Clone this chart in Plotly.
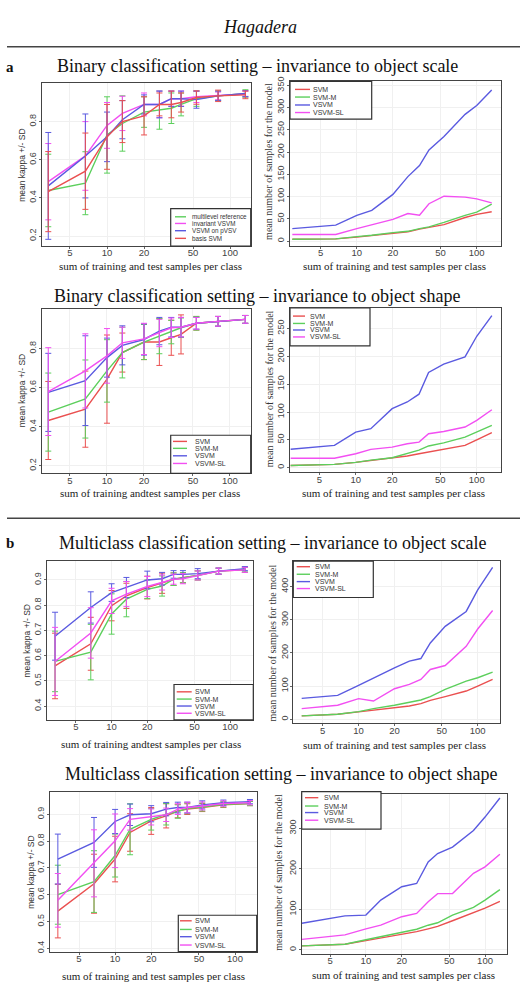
import plotly.graph_objects as go

W, H = 520, 993

# ---------------- data ----------------
x_left = [3.33, 6.67, 10, 13.33, 20, 26.67, 33.33, 40, 53.33, 80, 133.33]
x_right_edge = [2.9, 6.67, 10, 13.33, 20, 26.67, 33.33, 40, 53.33, 80, 100, 133.33]
x_right = [3.33, 6.67, 10, 13.33, 20, 26.67, 33.33, 40, 53.33, 80, 100, 133.33]
x_ticks = [5, 10, 20, 50, 100]

# a - binary, scale (kappa)
a1_green = [0.439, 0.477, 0.73, 0.79, 0.85, 0.86, 0.87, 0.89, 0.92, 0.935, 0.947]
a1_magenta = [0.485, 0.62, 0.78, 0.843, 0.89, 0.89, 0.92, 0.92, 0.93, 0.935, 0.945]
a1_blue = [0.463, 0.62, 0.72, 0.81, 0.89, 0.89, 0.92, 0.92, 0.915, 0.935, 0.947]
a1_red = [0.433, 0.54, 0.72, 0.80, 0.83, 0.89, 0.89, 0.90, 0.926, 0.935, 0.94]
a1_green_sd = [0.19, 0.165, 0.2, 0.145, 0.08, 0.1, 0.08, 0.06, 0.04, 0.025, 0.02]
a1_magenta_sd = [0.2, 0.18, 0.12, 0.09, 0.06, 0.07, 0.04, 0.04, 0.03, 0.02, 0.015]
a1_blue_sd = [0.28, 0.22, 0.13, 0.1, 0.05, 0.07, 0.04, 0.04, 0.045, 0.025, 0.015]
a1_red_sd = [0.21, 0.2, 0.17, 0.11, 0.1, 0.06, 0.07, 0.05, 0.035, 0.03, 0.02]

# a - binary, scale (samples)
a1r_vsvm = [28, 36, 58, 69, 105, 145, 170, 205, 235, 285, 305, 340]
a1r_vsvmsl = [15, 15, 28, 37, 49, 62, 58, 84, 101, 99, 95, 86]
a1r_svmm = [4, 5, 10, 13, 19, 22, 28, 32, 42, 58, 65, 83]
a1r_svm = [4, 5, 9, 13, 17, 21, 27, 31, 37, 53, 60, 66]

# a - binary, shape (kappa)
a2_red = [0.432, 0.49, 0.644, 0.78, 0.834, 0.834, 0.856, 0.873, 0.93, 0.94, 0.95]
a2_green = [0.475, 0.542, 0.686, 0.78, 0.834, 0.864, 0.885, 0.907, 0.93, 0.94, 0.95]
a2_blue = [0.576, 0.636, 0.754, 0.817, 0.847, 0.89, 0.91, 0.91, 0.93, 0.94, 0.95]
a2_magenta = [0.58, 0.686, 0.763, 0.83, 0.85, 0.88, 0.907, 0.91, 0.93, 0.94, 0.95]
a2_red_sd = [0.2, 0.195, 0.226, 0.1, 0.09, 0.12, 0.09, 0.1, 0.035, 0.025, 0.02]
a2_green_sd = [0.2, 0.2, 0.16, 0.13, 0.09, 0.09, 0.06, 0.05, 0.035, 0.025, 0.02]
a2_blue_sd = [0.2, 0.23, 0.1, 0.1, 0.08, 0.07, 0.05, 0.05, 0.03, 0.025, 0.02]
a2_magenta_sd = [0.225, 0.19, 0.14, 0.08, 0.08, 0.07, 0.05, 0.05, 0.03, 0.025, 0.02]

# a - binary, shape (samples)
a2r_vsvm = [33, 40, 64, 70, 106, 118, 132, 171, 186, 199, 236, 273]
a2r_vsvmsl = [17, 17, 25, 33, 37, 43, 46, 61, 65, 73, 85, 104]
a2r_svmm = [4, 6, 9.5, 13.7, 17.8, 25.5, 31.5, 39, 44.5, 55, 64, 76]
a2r_svm = [4, 6, 9.5, 12.5, 17, 21, 25, 28, 33, 40, 50, 63]

# b - multiclass, scale (kappa)
b1_blue = [0.677, 0.791, 0.85, 0.87, 0.9, 0.905, 0.922, 0.922, 0.925, 0.935, 0.945]
b1_magenta = [0.577, 0.69, 0.817, 0.844, 0.874, 0.89, 0.903, 0.905, 0.918, 0.935, 0.94]
b1_red = [0.559, 0.647, 0.798, 0.837, 0.87, 0.887, 0.903, 0.909, 0.918, 0.935, 0.94]
b1_green = [0.577, 0.614, 0.765, 0.824, 0.863, 0.876, 0.903, 0.909, 0.918, 0.935, 0.942]
b1_blue_sd = [0.095, 0.062, 0.035, 0.04, 0.035, 0.025, 0.015, 0.015, 0.02, 0.012, 0.008]
b1_magenta_sd = [0.135, 0.1, 0.05, 0.05, 0.04, 0.03, 0.02, 0.02, 0.018, 0.012, 0.01]
b1_red_sd = [0.13, 0.105, 0.06, 0.05, 0.045, 0.04, 0.025, 0.02, 0.018, 0.012, 0.01]
b1_green_sd = [0.12, 0.11, 0.08, 0.07, 0.037, 0.04, 0.025, 0.02, 0.018, 0.012, 0.01]

# b - multiclass, scale (samples)
b1r_vsvm = [63, 72, 102, 125, 155, 175, 183, 230, 280, 325, 390, 458]
b1r_vsvmsl = [32, 42, 62, 55, 92, 105, 120, 150, 162, 220, 272, 328]
b1r_svmm = [10, 15, 23, 32, 42, 50, 58, 68, 90, 115, 125, 142]
b1r_svm = [10, 15, 22, 27, 35, 40, 47, 57, 68, 85, 100, 120]

# b - multiclass, shape (kappa)
b2_blue = [0.733, 0.795, 0.873, 0.898, 0.902, 0.919, 0.925, 0.925, 0.935, 0.943, 0.947]
b2_magenta = [0.579, 0.717, 0.801, 0.881, 0.89, 0.898, 0.919, 0.925, 0.931, 0.94, 0.943]
b2_green = [0.6, 0.649, 0.746, 0.844, 0.881, 0.9, 0.91, 0.922, 0.927, 0.937, 0.94]
b2_red = [0.539, 0.641, 0.733, 0.832, 0.875, 0.894, 0.912, 0.919, 0.925, 0.935, 0.94]
b2_blue_sd = [0.093, 0.093, 0.045, 0.04, 0.03, 0.025, 0.02, 0.02, 0.015, 0.01, 0.008]
b2_magenta_sd = [0.1, 0.125, 0.1, 0.04, 0.03, 0.025, 0.02, 0.02, 0.015, 0.01, 0.008]
b2_green_sd = [0.11, 0.115, 0.08, 0.095, 0.04, 0.04, 0.025, 0.02, 0.015, 0.01, 0.008]
b2_red_sd = [0.1, 0.11, 0.085, 0.07, 0.05, 0.045, 0.025, 0.02, 0.015, 0.01, 0.008]

# b - multiclass, shape (samples)
b2r_vsvm = [66, 84, 86, 123, 156, 164, 217, 238, 254, 295, 328, 375]
b2r_vsvmsl = [26, 37, 52, 61, 82, 90, 119, 139, 139, 189, 205, 236]
b2r_svmm = [10, 14, 25, 33, 43, 51, 61, 67, 86, 105, 123, 149]
b2r_svm = [10, 14, 23, 29, 38, 45, 52, 58, 72, 92, 103, 120]

# ---------------- styles ----------------
RED, GREEN, BLUE, MAG = "#ea5050", "#5ccf5c", "#5a5ae0", "#f24ff2"
SERIF = "Liberation Serif"
SANS = "Liberation Sans"
STD_NAMES = ["SVM", "SVM-M", "VSVM", "VSVM-SL"]
STD_COLS = [RED, GREEN, BLUE, MAG]
XT = "sum of training and test samples per class"
XT2 = "sum of training andtest samples per class"
YK = "mean kappa +/- SD"
YS = "mean number of samples for the model"

panels = [
    dict(box=(41.7, 79, 250.7, 242.7), xr=(0.469, 2.168), yr=(0.148, 1.0), yt=[0.2, 0.4, 0.6, 0.8],
         series=[(x_left, a1_green, a1_green_sd, GREEN), (x_left, a1_magenta, a1_magenta_sd, MAG),
                 (x_left, a1_blue, a1_blue_sd, BLUE), (x_left, a1_red, a1_red_sd, RED)],
         leg=dict(box=(170.7, 205, 250.7, 242.7), ys=[213.3, 220, 227.3, 235], lx=(175, 186), tx=190,
                  names=["multilevel reference", "invariant VSVM", "VSVM on pVSV", "basis SVM"],
                  cols=[GREEN, MAG, BLUE, RED], fs=6.3),
         ytitle=(YK, 22, 162, SANS, 8.5), xtitle=(XT, 150, 263)),
    dict(box=(290, 77, 500.7, 242.7), xr=(0.443, 2.2), yr=(-11, 359), yt=list(range(0, 351, 50)),
         series=[(x_right_edge, a1r_svm, None, RED), (x_right_edge, a1r_svmm, None, GREEN),
                 (x_right_edge, a1r_vsvm, None, BLUE), (x_right_edge, a1r_vsvmsl, None, MAG)],
         leg=dict(box=(290, 77, 371.7, 115), ys=[85, 92.7, 100.7, 108.3], lx=(295, 310), tx=311,
                  names=STD_NAMES, cols=STD_COLS, fs=7),
         ytitle=(YS, 269, 158, SERIF, 10), xtitle=(XT, 394, 263)),
    dict(box=(41.7, 306, 250.7, 471.7), xr=(0.469, 2.169), yr=(0.161, 1.004), yt=[0.2, 0.4, 0.6, 0.8],
         series=[(x_left, a2_red, a2_red_sd, RED), (x_left, a2_green, a2_green_sd, GREEN),
                 (x_left, a2_blue, a2_blue_sd, BLUE), (x_left, a2_magenta, a2_magenta_sd, MAG)],
         leg=dict(box=(170.7, 433.3, 250.7, 471.7), ys=[439.5, 446.5, 454, 461.7], lx=(173, 187), tx=193,
                  names=STD_NAMES, cols=STD_COLS, fs=7),
         ytitle=(YK, 22, 389, SANS, 8.5), xtitle=(XT2, 150, 491.7)),
    dict(box=(290, 305, 500.7, 470.7), xr=(0.457, 2.198), yr=(-8.4, 287), yt=list(range(0, 251, 50)),
         series=[(x_right_edge, a2r_svm, None, RED), (x_right_edge, a2r_svmm, None, GREEN),
                 (x_right_edge, a2r_vsvm, None, BLUE), (x_right_edge, a2r_vsvmsl, None, MAG)],
         leg=dict(box=(290, 305, 370, 343.3), ys=[313.3, 320.7, 327.3, 334.3], lx=(293, 305), tx=308,
                  names=STD_NAMES, cols=STD_COLS, fs=7),
         ytitle=(YS, 269, 387, SERIF, 10), xtitle=(XT, 393, 491.7)),
    dict(box=(46.7, 560, 253.3, 720), xr=(0.452, 2.196), yr=(0.345, 0.975), yt=[0.4, 0.5, 0.6, 0.7, 0.8, 0.9],
         series=[(x_left, b1_red, b1_red_sd, RED), (x_left, b1_green, b1_green_sd, GREEN),
                 (x_left, b1_blue, b1_blue_sd, BLUE), (x_left, b1_magenta, b1_magenta_sd, MAG)],
         leg=dict(box=(174, 684.3, 253.3, 720), ys=[691.7, 699, 706, 713.3], lx=(176.7, 191.7), tx=193.3,
                  names=STD_NAMES, cols=STD_COLS, fs=7),
         ytitle=(YK, 27, 641, SANS, 8.5), xtitle=(XT2, 150.5, 744.3)),
    dict(box=(293.3, 560, 500, 723.3), xr=(0.452, 2.187), yr=(-12, 477), yt=[0, 100, 200, 300, 400],
         series=[(x_right, b1r_svm, None, RED), (x_right, b1r_svmm, None, GREEN),
                 (x_right, b1r_vsvm, None, BLUE), (x_right, b1r_vsvmsl, None, MAG)],
         leg=dict(box=(293.3, 560, 373.3, 596.7), ys=[565.7, 573.3, 580.7, 587.7], lx=(296.7, 310), tx=313.3,
                  names=STD_NAMES, cols=STD_COLS, fs=7),
         ytitle=(YS, 272, 643, SERIF, 10), xtitle=(XT, 394, 745)),
    dict(box=(50, 792.3, 256.7, 953.3), xr=(0.457, 2.181), yr=(0.388, 0.984), yt=[0.4, 0.5, 0.6, 0.7, 0.8, 0.9],
         series=[(x_left, b2_red, b2_red_sd, RED), (x_left, b2_green, b2_green_sd, GREEN),
                 (x_left, b2_blue, b2_blue_sd, BLUE), (x_left, b2_magenta, b2_magenta_sd, MAG)],
         leg=dict(box=(178.3, 916.7, 256.7, 953.3), ys=[922.3, 931, 938.3, 946.7], lx=(180, 191.7), tx=193.3,
                  names=STD_NAMES, cols=STD_COLS, fs=7),
         ytitle=(YK, 31, 874, SANS, 8.5), xtitle=(XT, 153.7, 977.7)),
    dict(box=(301.7, 795, 506.7, 955.7), xr=(0.461, 2.182), yr=(-10, 384), yt=[0, 100, 200, 300],
         series=[(x_right_edge, b2r_svm, None, RED), (x_right_edge, b2r_svmm, None, GREEN),
                 (x_right_edge, b2r_vsvm, None, BLUE), (x_right_edge, b2r_vsvmsl, None, MAG)],
         leg=dict(box=(301.7, 792.3, 381, 830), ys=[798.3, 806.7, 813.3, 821], lx=(305, 318.3), tx=321.7,
                  names=STD_NAMES, cols=STD_COLS, fs=7),
         ytitle=(YS, 279, 874, SERIF, 10), xtitle=(XT, 403, 976.7)),
]


def fx(p):
    return p / W


def fy(p):
    return 1 - p / H


fig = go.Figure()
layout = dict(width=W, height=H, margin=dict(l=0, r=0, t=0, b=0), paper_bgcolor="white",
              plot_bgcolor="white", showlegend=False)
shapes, annotations = [], []

for i, p in enumerate(panels, start=1):
    sx = "" if i == 1 else str(i)
    x0, y0, x1, y1 = p["box"]
    axstyle = dict(showline=True, mirror=True, linecolor="#444", linewidth=1.2, ticks="outside",
                   ticklen=2, tickcolor="#666", showgrid=True, gridcolor="#f0f0f0", zeroline=False)
    layout["xaxis" + sx] = dict(domain=[fx(x0), fx(x1)], anchor="y" + sx, type="log",
                                range=list(p["xr"]), tickvals=x_ticks, ticktext=[str(t) for t in x_ticks],
                                tickfont=dict(family=SANS, size=9.5, color="#444"),
                                ticklabelstandoff=-4, **axstyle)
    layout["yaxis" + sx] = dict(domain=[fy(y1), fy(y0)], anchor="x" + sx, range=list(p["yr"]),
                                tickvals=p["yt"],
                                ticktext=[("%g" % t) if t >= 1 or t == 0 else ("%.1f" % t) for t in p["yt"]],
                                tickfont=dict(family=SANS, size=9, color="#444"),
                                ticklabelstandoff=-1, tickangle=-90, **axstyle)
    for (xs, ys, sd, col) in p["series"]:
        tr = dict(x=xs, y=ys, mode="lines", line=dict(color=col, width=1.4), xaxis="x" + sx,
                  yaxis="y" + sx, hoverinfo="skip")
        if sd is not None:
            tr["error_y"] = dict(type="data", array=sd, visible=True, color=col, thickness=1, width=3)
        fig.add_trace(go.Scatter(**tr))
    # legend (drawn manually, R style)
    lg = p["leg"]
    bx0, by0, bx1, by1 = lg["box"]
    shapes.append(dict(type="rect", xref="paper", yref="paper", x0=fx(bx0), x1=fx(bx1), y0=fy(by1),
                       y1=fy(by0), line=dict(color="#333", width=1.2), fillcolor="white", layer="above"))
    for yy, name, col in zip(lg["ys"], lg["names"], lg["cols"]):
        shapes.append(dict(type="line", xref="paper", yref="paper", x0=fx(lg["lx"][0]), x1=fx(lg["lx"][1]),
                           y0=fy(yy), y1=fy(yy), line=dict(color=col, width=1.4), layer="above"))
        annotations.append(dict(text=name, xref="paper", yref="paper", x=fx(lg["tx"]), y=fy(yy),
                                xanchor="left", yanchor="middle", showarrow=False,
                                font=dict(family=SANS, size=lg["fs"], color="#333")))
    # axis titles
    t, tx, ty, fam, fs = p["ytitle"]
    annotations.append(dict(text=t, xref="paper", yref="paper", x=fx(tx), y=fy(ty), textangle=-90,
                            xanchor="center", yanchor="middle", showarrow=False,
                            font=dict(family=fam, size=fs, color="#333")))
    t, tx, ty = p["xtitle"]
    annotations.append(dict(text=t, xref="paper", yref="paper", x=fx(tx), y=fy(ty), xanchor="center",
                            yanchor="middle", showarrow=False, font=dict(family=SERIF, size=11, color="#222")))

# headings
headings = [
    ("<i>Hagadera</i>", 260, 22, 18),
    ("Binary classification setting – invariance to object scale", 257, 61, 18),
    ("Binary classification setting – invariance to object shape", 257, 293, 18),
    ("Multiclass classification setting – invariance to object scale", 272, 542, 18),
    ("Multiclass classification setting – invariance to object shape", 281, 774, 18),
]
for t, x, y, s in headings:
    annotations.append(dict(text=t, xref="paper", yref="paper", x=fx(x), y=fy(y), xanchor="center",
                            yanchor="middle", showarrow=False, font=dict(family=SERIF, size=s, color="#111")))
for t, y in [("<b>a</b>", 62), ("<b>b</b>", 542)]:
    annotations.append(dict(text=t, xref="paper", yref="paper", x=fx(4), y=fy(y), xanchor="left",
                            yanchor="middle", showarrow=False, font=dict(family=SERIF, size=15, color="#111")))
for y in [42, 517]:
    shapes.append(dict(type="line", xref="paper", yref="paper", x0=fx(7), x1=1.0, y0=fy(y), y1=fy(y),
                       line=dict(color="#444", width=1.5)))

layout["shapes"] = shapes
layout["annotations"] = annotations
fig.update_layout(**layout)
fig.write_html("out.html")
